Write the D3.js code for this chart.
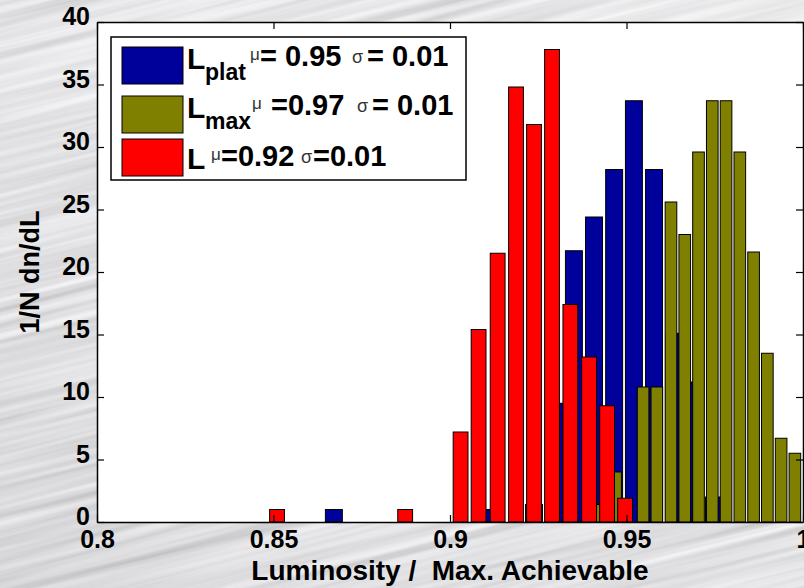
<!DOCTYPE html>
<html>
<head>
<meta charset="utf-8">
<script src="https://cdn.jsdelivr.net/npm/d3@7"></script>
<style>
  body { margin: 0; }
  svg { display: block; font-family: "Liberation Sans", Arial, Helvetica, sans-serif; }
</style>
</head>
<body>
<script>
/* histogrammes de luminosite */

var widthMax = 804;
var heightMax = 588;

// donnees
var xTicks = [0.8, 0.85, 0.9, 0.95, 1];
var xTickLabels = ["0.8", "0.85", "0.9", "0.95", "1"];
var yTicks = [0, 5, 10, 15, 20, 25, 30, 35, 40];

var platCenters = [0.8671, 0.9125, 0.9238, 0.9295, 0.9351, 0.9408, 0.9465, 0.9521, 0.9578, 0.9635, 0.9691, 0.9748];
var platValues  = [1.0, 1.0, 1.4, 9.5, 21.7, 24.4, 28.2, 33.7, 28.2, 15.1, 11.2, 2.0];

var maxCenters = [0.9430, 0.9469, 0.9547, 0.9586, 0.9626, 0.9665, 0.9704, 0.9743, 0.9782, 0.9821, 0.9860, 0.9899, 0.9938, 0.9977];
var maxValues  = [1.4, 4.0, 10.8, 10.8, 25.6, 23.0, 29.6, 33.7, 33.7, 29.6, 21.6, 13.5, 6.7, 5.5];

var lCenters = [0.8510, 0.8873, 0.9030, 0.9081, 0.9135, 0.9187, 0.9238, 0.9289, 0.9341, 0.9394, 0.9445, 0.9496];
var lValues  = [1.0, 1.0, 7.2, 15.4, 21.5, 34.8, 31.8, 37.8, 17.4, 13.2, 9.3, 1.9];

var seriesNames = ["plat", "max", ""];
var seriesMu = ["= 0.95", "=0.97", "=0.92"];
var seriesSigma = ["= 0.01", "= 0.01", "=0.01"];
var seriesColors = ["#00009a", "#808000", "#ff0000"];

var plotLeft = 97, plotRight = 803, plotTop = 22, plotBottom = 522;

var x = d3.scaleLinear().domain([0.8, 1]).range([plotLeft, plotRight]);
var y = d3.scaleLinear().domain([0, 40]).range([plotBottom, plotTop]);

var svg = d3.select("body").append("svg")
	.attr("width", widthMax)
	.attr("height", heightMax);

var defs = svg.append("defs");

// fond metal brosse
var filt = defs.append("filter")
	.attr("id", "brushed")
	.attr("x", 0).attr("y", 0).attr("width", 1).attr("height", 1);
filt.append("feTurbulence")
	.attr("type", "fractalNoise")
	.attr("baseFrequency", "0.0025 0.12")
	.attr("numOctaves", 3)
	.attr("seed", 7)
	.attr("result", "n");
filt.append("feColorMatrix")
	.attr("in", "n")
	.attr("type", "matrix")
	.attr("values", "0.28 0.28 0.28 0 0.35  0.28 0.28 0.28 0 0.35  0.28 0.28 0.28 0 0.365  0 0 0 0 1");

var grad = defs.append("linearGradient")
	.attr("id", "sheen")
	.attr("x1", "0").attr("y1", "1").attr("x2", "1").attr("y2", "0");
grad.append("stop").attr("offset", "0").attr("stop-color", "#000").attr("stop-opacity", 0.06);
grad.append("stop").attr("offset", "0.55").attr("stop-color", "#fff").attr("stop-opacity", 0.0);
grad.append("stop").attr("offset", "1").attr("stop-color", "#fff").attr("stop-opacity", 0.3);

svg.append("rect")
	.attr("x", -200).attr("y", -300)
	.attr("width", 1200).attr("height", 1200)
	.attr("transform", "rotate(-14 402 294)")
	.attr("filter", "url(#brushed)");

svg.append("rect")
	.attr("width", widthMax).attr("height", heightMax)
	.attr("fill", "url(#sheen)");

// zone blanche
svg.append("rect")
	.attr("x", plotLeft).attr("y", plotTop)
	.attr("width", plotRight - plotLeft).attr("height", plotBottom - plotTop)
	.attr("fill", "white");

defs.append("clipPath").attr("id", "clip")
	.append("rect")
	.attr("x", plotLeft).attr("y", plotTop)
	.attr("width", plotRight - plotLeft).attr("height", plotBottom - plotTop);

var bars = svg.append("g").attr("clip-path", "url(#clip)");

function drawBars(centers, values, barWidth, color) {
	var data = centers.map(function (c, i) { return { c: c, v: values[i] }; });
	bars.append("g").selectAll("rect")
		.data(data)
		.enter().append("rect")
		.attr("x", function (d) { return x(d.c - barWidth / 2); })
		.attr("width", function (d) { return x(d.c + barWidth / 2) - x(d.c - barWidth / 2); })
		.attr("y", function (d) { return y(d.v); })
		.attr("height", function (d) { return y(0) - y(d.v); })
		.attr("fill", color)
		.attr("stroke", "black")
		.attr("stroke-width", 1);
}

drawBars(platCenters, platValues, 0.0048, seriesColors[0]);
drawBars(maxCenters, maxValues, 0.0033, seriesColors[1]);
drawBars(lCenters, lValues, 0.0042, seriesColors[2]);

// axes
var fmt = function (d, i) { return xTickLabels[i]; };

var gx = svg.append("g")
	.attr("transform", "translate(0," + plotBottom + ")")
	.call(d3.axisBottom(x).tickValues(xTicks).tickFormat(fmt).tickSize(-7).tickSizeOuter(0).tickPadding(8));

var gy = svg.append("g")
	.attr("transform", "translate(" + plotLeft + ",0)")
	.call(d3.axisLeft(y).tickValues(yTicks).tickSize(-7).tickSizeOuter(0).tickPadding(7));

svg.append("g")
	.attr("transform", "translate(0," + plotTop + ")")
	.call(d3.axisTop(x).tickValues(xTicks).tickFormat("").tickSize(-7).tickSizeOuter(0));

svg.append("g")
	.attr("transform", "translate(" + plotRight + ",0)")
	.call(d3.axisRight(y).tickValues(yTicks).tickFormat("").tickSize(-7).tickSizeOuter(0));

svg.selectAll(".domain").attr("stroke", "black").attr("stroke-width", 1.5);
svg.selectAll(".tick line").attr("stroke", "black").attr("stroke-width", 1.2);
svg.selectAll(".tick text")
	.attr("fill", "black")
	.style("font-size", "25px")
	.style("font-weight", "bold")
	.style("font-family", "'Liberation Sans', Arial, sans-serif");
gy.selectAll(".tick text").attr("dy", "0.1em");

// titres des axes
svg.append("text")
	.attr("x", (plotLeft + plotRight) / 2)
	.attr("y", 580)
	.attr("text-anchor", "middle")
	.style("white-space", "pre")
	.style("font-size", "28px")
	.style("font-weight", "bold")
	.text("Luminosity /  Max. Achievable");

svg.append("text")
	.attr("transform", "translate(39," + ((plotTop + plotBottom) / 2) + ") rotate(-90)")
	.attr("text-anchor", "middle")
	.style("font-size", "27px")
	.style("font-weight", "bold")
	.text("1/N dn/dL");

// legende
var legend = svg.append("g");
legend.append("rect")
	.attr("x", 111).attr("y", 37)
	.attr("width", 355).attr("height", 143)
	.attr("fill", "white")
	.attr("stroke", "black")
	.attr("stroke-width", 1.5);

var rowTop = [47, 96, 139];
var rowBase = [66, 115, 166];
var muX = [250, 252, 211];
var muTextX = [260, 271, 221];
var sigX = [352, 357, 301];
var sigTextX = [367, 372, 313];

seriesNames.forEach(function (name, i) {
	legend.append("rect")
		.attr("x", 122).attr("y", rowTop[i])
		.attr("width", 61).attr("height", 37)
		.attr("fill", seriesColors[i])
		.attr("stroke", "black")
		.attr("stroke-width", 1);

	var t = legend.append("text")
		.attr("y", rowBase[i])
		.style("font-weight", "bold")
		.style("font-size", "29px");
	t.append("tspan").attr("x", 187).attr("y", rowBase[i] + 3).style("font-size", "30px").text("L");
	if (name) {
		t.append("tspan").attr("x", 205).attr("y", rowBase[i] + 14).style("font-size", "23px").text(name);
	}
	t.append("tspan").attr("x", muX[i]).attr("y", rowBase[i] - 6)
		.style("font-size", "17px").style("font-weight", "normal").attr("fill", "#333").text("\u03bc");
	t.append("tspan").attr("x", muTextX[i]).attr("y", rowBase[i]).text(seriesMu[i]);
	t.append("tspan").attr("x", sigX[i]).attr("y", rowBase[i] - 3)
		.style("font-size", "18px").style("font-weight", "normal").attr("fill", "#333").text("\u03c3");
	t.append("tspan").attr("x", sigTextX[i]).attr("y", rowBase[i]).text(seriesSigma[i]);
});
</script>
</body>
</html>
